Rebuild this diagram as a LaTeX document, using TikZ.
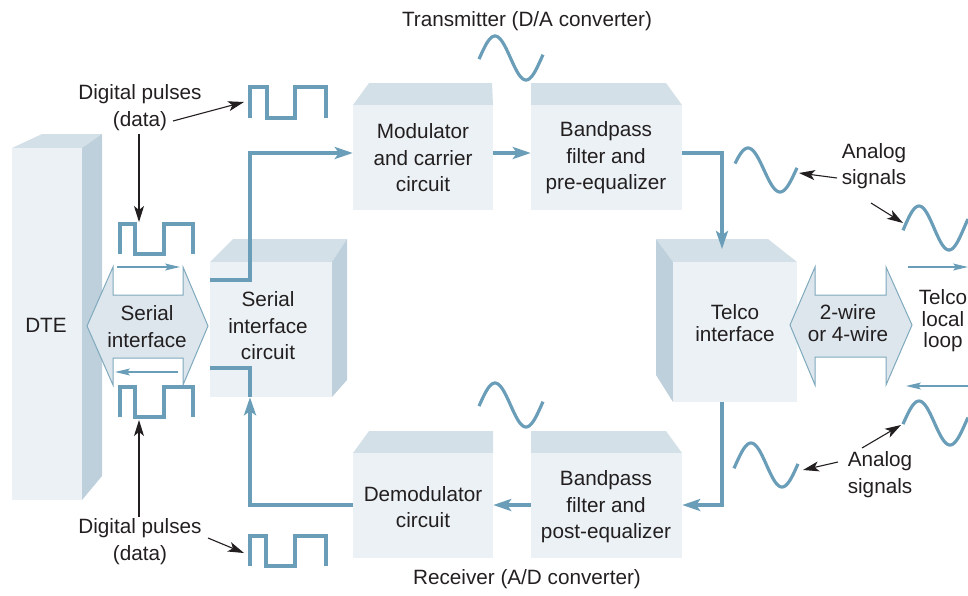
\documentclass[tikz,border=0pt]{standalone}
\usepackage{fontspec}
\setmainfont{Liberation Sans}
\usetikzlibrary{arrows.meta}
\definecolor{frontc}{HTML}{EBF1F4}
\definecolor{topc}{HTML}{D4E0E7}
\definecolor{sidec}{HTML}{BDD0DC}
\definecolor{hexfill}{HTML}{DCE6EC}
\definecolor{hexline}{HTML}{7FA9BD}
\definecolor{lineblue}{HTML}{6A9EB8}
\definecolor{ink}{HTML}{231F20}
% peak x, centre y, from, to (relative to peak), period
\newcommand\mywave[5]{\draw[wave, shift={(#1,#2)}] plot[variable=\t, domain=#3:#4, samples=50] (\t,{-22*cos(\t*(360/#5))});}
\begin{document}
\begin{tikzpicture}[x=1pt,y=-1pt,
  face/.style={fill=frontc, draw=none, inner sep=0pt},
  topface/.style={fill=topc, draw=none},
  sideface/.style={fill=sidec, draw=none},
  txt/.style={text=ink, align=center, inner sep=0pt, font=\fontsize{20.7}{26.5}\selectfont},
  tighttxt/.style={text=ink, align=center, inner sep=0pt, font=\fontsize{20.7}{21.5}\selectfont},
  bline/.style={draw=lineblue, line width=3.8pt, line join=miter},
  barrow/.style={bline, -{Stealth[length=18pt,width=12pt,inset=4pt]}},
  tarrow/.style={draw=ink, line width=1.1pt, -{Stealth[length=16pt,width=10pt,inset=4pt]}},
  thinblue/.style={draw=lineblue, line width=1.3pt, -{Stealth[length=15pt,width=7pt,inset=3pt]}},
  sq/.style={draw=lineblue, line width=3.2pt, line join=miter},
  wave/.style={draw=lineblue, line width=3.2pt, line join=round},
  hex/.style={fill=hexfill, draw=hexline, line width=1pt, line join=miter}]
\useasboundingbox (0,0) rectangle (968,595);

% ---- DTE
\fill[topface] (12,148) -- (42,134) -- (102,134) -- (82,148) -- cycle;
\fill[sideface] (82,148) -- (102,134) -- (102,476) -- (82,500) -- cycle;
\node[face, minimum width=70pt, minimum height=352pt] (dte) at (47,324) {};
\node[txt] at (46,325) {DTE};

% ---- Serial interface circuit
\fill[topface] (210,262) -- (233,239) -- (347,239) -- (332,262) -- cycle;
\fill[sideface] (332,262) -- (347,239) -- (347,380) -- (332,397) -- cycle;
\node[face, minimum width=122pt, minimum height=135pt] (sic) at (271,329.5) {};

% ---- Modulator
\fill[topface] (353,105) -- (369,83) -- (492,83) -- (493,105) -- cycle;
\node[face, minimum width=140pt, minimum height=105pt] (mod) at (423,157.5) {};
% ---- Bandpass pre
\fill[topface] (531,105) -- (531,83) -- (666,83) -- (682,105) -- cycle;
\node[face, minimum width=151pt, minimum height=105pt] (bpf) at (606.5,157.5) {};
% ---- Demodulator
\fill[topface] (353,453) -- (369,431) -- (493,431) -- (493,453) -- cycle;
\node[face, minimum width=140pt, minimum height=105pt] (dem) at (423,505.5) {};
% ---- Bandpass post
\fill[topface] (531,453) -- (531,431) -- (666,431) -- (682,453) -- cycle;
\node[face, minimum width=151pt, minimum height=105pt] (bpp) at (606.5,505.5) {};
% ---- Telco interface
\fill[topface] (673,262) -- (656,239) -- (768,239) -- (797,262) -- cycle;
\fill[sideface] (656,239) -- (673,262) -- (673,402) -- (656,375) -- cycle;
\node[face, minimum width=124pt, minimum height=140pt] (tel) at (735,332) {};

% ---- double arrows
\draw[hex] (87,326) -- (113,267) -- (113,295) -- (183,295) -- (183,267) -- (208,326)
  -- (183,385) -- (183,358) -- (113,358) -- (113,385) -- cycle;
\draw[hex] (790,325) -- (815,267) -- (815,295) -- (886,295) -- (886,267) -- (912,325)
  -- (886,385) -- (886,357) -- (815,357) -- (815,385) -- cycle;

% ---- thin blue arrows
\coordinate (sa1) at (117,267); \coordinate (sa2) at (180,267);
\coordinate (sb1) at (178,372); \coordinate (sb2) at (115,372);
\coordinate (ra1) at (908,267); \coordinate (ra2) at (968,267);
\coordinate (rb1) at (968,386); \coordinate (rb2) at (906,386);
\draw[thinblue] (sa1) -- (sa2);
\draw[thinblue] (sb1) -- (sb2);
\draw[thinblue] (ra1) -- (ra2);
\draw[thinblue] (rb1) -- (rb2);

% ---- square waves
\draw[sq] (120,254) -- (120,224) -- (135,224) -- (135,254) -- (164,254) -- (164,224) -- (193,224) -- (193,254);
\draw[sq] (120,417) -- (120,387) -- (135,387) -- (135,417) -- (164,417) -- (164,387) -- (193,387) -- (193,417);
\draw[sq] (250,118) -- (250,87) -- (267,87) -- (267,118) -- (295,118) -- (295,87) -- (326,87) -- (326,118);
\draw[sq] (250,566) -- (250,536) -- (266,536) -- (266,566) -- (295,566) -- (295,536) -- (326,536) -- (326,566);

% ---- sine waves
\mywave{495}{58}{-16}{48}{62}
\mywave{495}{405}{-16}{48}{62}
\mywave{748}{170}{-13}{49}{64}
\mywave{919}{228}{-16}{49}{60}
\mywave{751}{465}{-17}{47}{62}
\mywave{919}{423}{-16}{49}{62}

% ---- connectors
\coordinate (telin) at (722,249);
\draw[barrow] ([yshift=49.5pt]sic.west) -| (250,153) -- (mod.west |- 0,153);
\draw[barrow] (mod.east |- 0,153) -- (bpf.west |- 0,153);
\draw[barrow] (bpf.east |- 0,153) -| (telin);
\draw[barrow] (tel.south -| 722,0) |- (bpp.east |- 0,505);
\draw[barrow] (bpp.west |- 0,505) -- (dem.east |- 0,505);
\draw[barrow] (dem.west |- 0,505) -| (sic.south -| 250,0);
\draw[bline] ([yshift=-38.5pt]sic.west) -| (sic.south -| 250,0);

% ---- texts in boxes
\node[txt] at (268,326) {Serial\\interface\\circuit};
\node[txt] at (147,326.5) {Serial\\interface};
\node[txt] at (423,158) {Modulator\\and carrier\\circuit};
\node[txt] at (606,158) {Bandpass\\filter and\\pre-equalizer};
\node[txt] at (423,507) {Demodulator\\circuit};
\node[txt] at (606,507) {Bandpass\\filter and\\post-equalizer};
\node[tighttxt] at (735,323) {Telco\\interface};
\node[tighttxt] at (848,323) {2-wire\\or 4-wire};
\node[tighttxt] at (943,321) {Telco\\local\\loop};

% ---- labels
\node[txt] (tx) at (527,21) {Transmitter (D/A converter)};
\node[txt] (rx) at (527,579) {Receiver (A/D converter)};
\node[txt] (dp1) at (140,107.5) {Digital pulses\\(data)};
\node[txt] (dp2) at (140,541.5) {Digital pulses\\(data)};
\node[txt] (as1) at (874,166) {Analog\\signals};
\node[txt] (as2) at (880,474.5) {Analog\\signals};

% ---- annotation arrows
\coordinate (p1a) at (173,121); \coordinate (p1b) at (244,102);
\coordinate (p2a) at (139,134); \coordinate (p2b) at (139,222);
\coordinate (p3a) at (139,517); \coordinate (p3b) at (139,420);
\coordinate (p4a) at (208,538); \coordinate (p4b) at (244,553);
\coordinate (q1a) at (837,178); \coordinate (q1b) at (799,173);
\coordinate (q2a) at (871,203); \coordinate (q2b) at (903,223);
\coordinate (q3a) at (838,462); \coordinate (q3b) at (803,470);
\coordinate (q4a) at (862,448); \coordinate (q4b) at (901,425);
\draw[tarrow] (p1a) -- (p1b);
\draw[tarrow] (p2a) -- (p2b);
\draw[tarrow] (p3a) -- (p3b);
\draw[tarrow] (p4a) -- (p4b);
\draw[tarrow] (q1a) -- (q1b);
\draw[tarrow] (q2a) -- (q2b);
\draw[tarrow] (q3a) -- (q3b);
\draw[tarrow] (q4a) -- (q4b);
\end{tikzpicture}
\end{document}
